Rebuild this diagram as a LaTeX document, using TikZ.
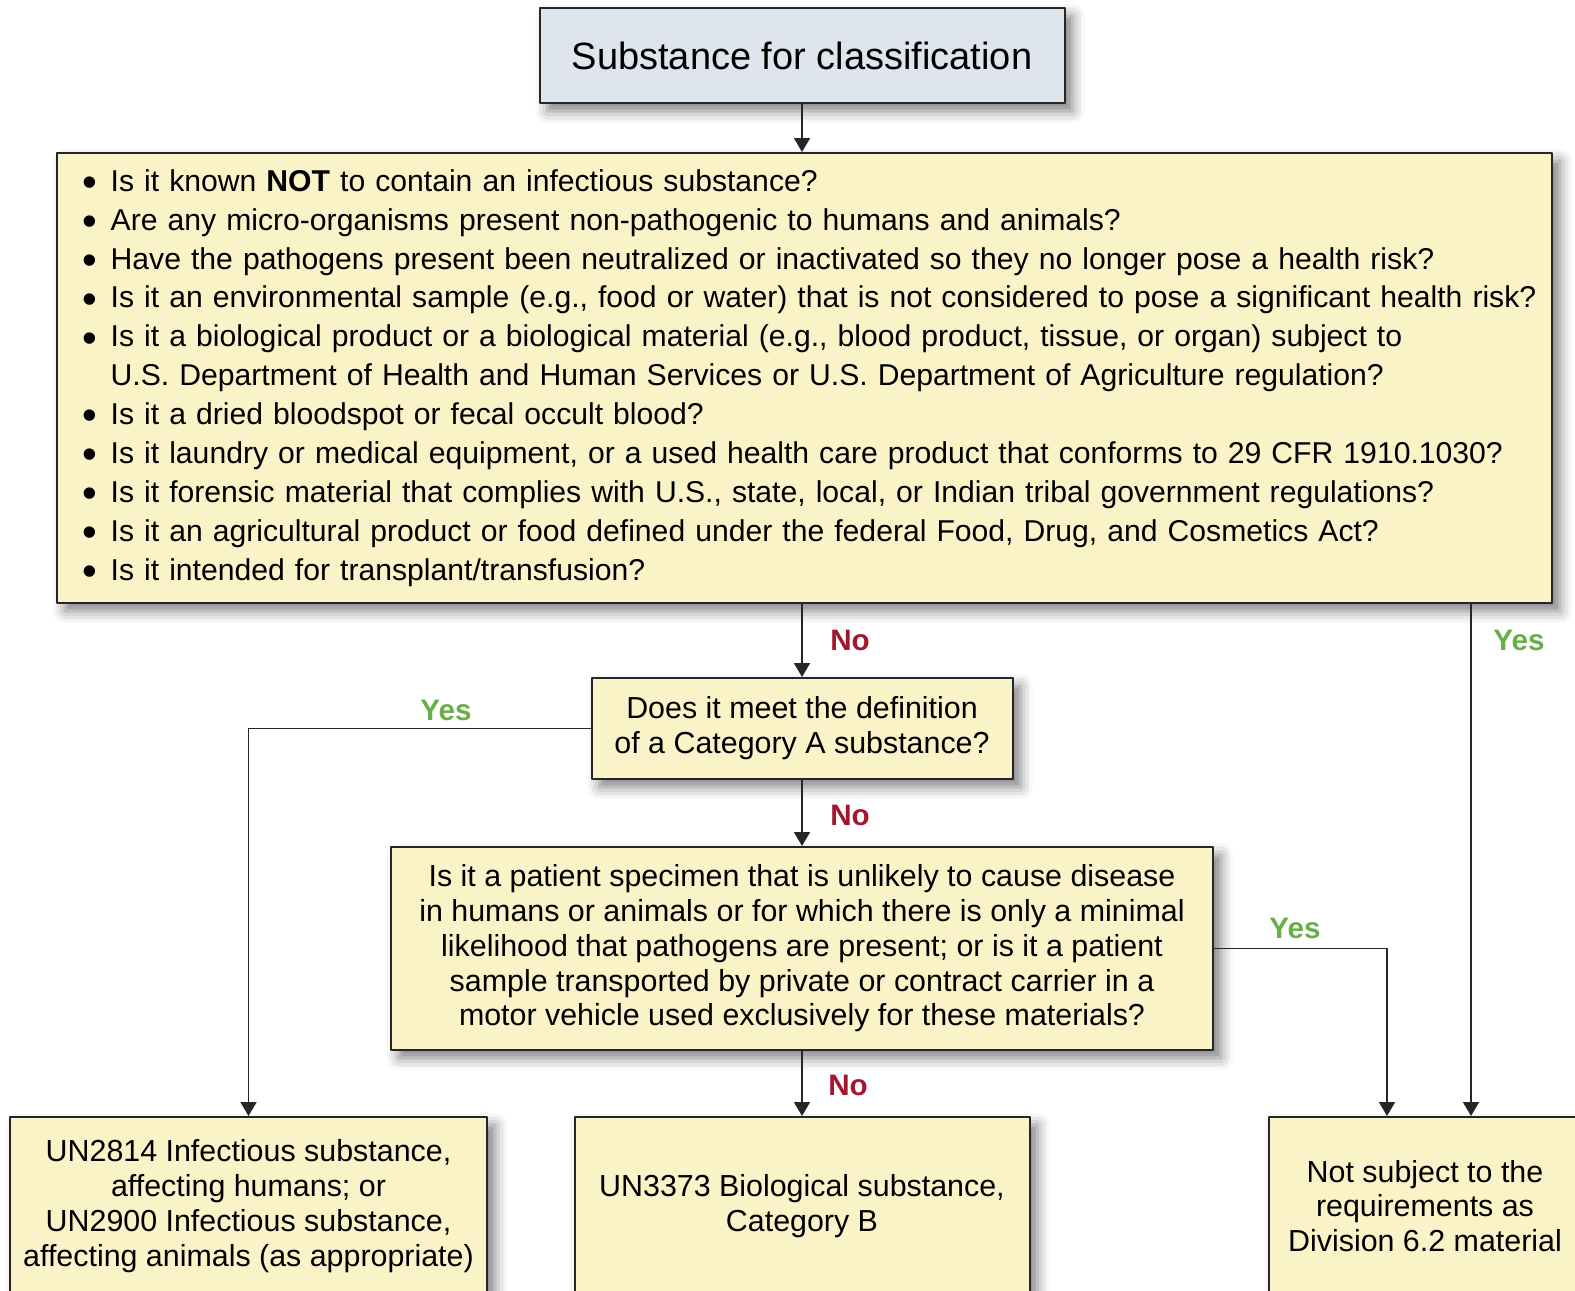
\documentclass[tikz,border=0pt]{standalone}
\usepackage{fontspec}
\setmainfont{Liberation Sans}
\usetikzlibrary{arrows.meta,shadows.blur}
\definecolor{boxyellow}{RGB}{250,243,200}
\definecolor{boxblue}{RGB}{222,229,237}
\definecolor{nored}{RGB}{163,22,46}
\definecolor{yesgreen}{RGB}{106,174,74}
\newcommand{\qbul}{\raisebox{-2.6pt}{\fontsize{21}{0}\selectfont\textbullet}}
\begin{document}
\begin{tikzpicture}[x=0.5pt, y=-0.5pt, line join=round, >={Triangle[width=8pt,length=7pt]},
	box/.style={draw=black!85, line width=1pt, fill=boxyellow, align=center, inner sep=0pt,
		blur shadow={shadow xshift=4pt, shadow yshift=-4pt, shadow blur radius=6pt, shadow opacity=50},
		font=\fontsize{15.2}{17.4}\selectfont},
	yes/.style={text=yesgreen, font=\bfseries\fontsize{14.8}{16}\selectfont},
	no/.style={text=nored, font=\bfseries\fontsize{14.8}{16}\selectfont},
	flow/.style={->, line width=0.9pt, black!85}]
	\def\xc{802}
	\def\yb{1206}
	\clip (0,0) rectangle (1575,1291);
	\node[box, fill=boxblue, minimum width=262.5pt, minimum height=47.5pt, font=\fontsize{19}{22}\selectfont] (src) at (\xc,55.5) {Substance for classification};
	\node[box, minimum width=747.5pt, minimum height=225pt, align=left, inner xsep=13pt, text width=721.5pt, font=\fontsize{15.07}{19.45}\selectfont] (quest) at (804.5,378) {%
		\begin{tabular}{@{}l@{\hspace{6.5pt}}l@{}}
			\qbul & Is it known \textbf{NOT} to contain an infectious substance?\\
			\qbul & Are any micro-organisms present non-pathogenic to humans and animals?\\
			\qbul & Have the pathogens present been neutralized or inactivated so they no longer pose a health risk?\\
			\qbul & Is it an environmental sample (e.g., food or water) that is not considered to pose a significant health risk?\\
			\qbul & Is it a biological product or a biological material (e.g., blood product, tissue, or organ) subject to\\
			& U.S. Department of Health and Human Services or U.S. Department of Agriculture regulation?\\
			\qbul & Is it a dried bloodspot or fecal occult blood?\\
			\qbul & Is it laundry or medical equipment, or a used health care product that conforms to 29 CFR 1910.1030?\\
			\qbul & Is it forensic material that complies with U.S., state, local, or Indian tribal government regulations?\\
			\qbul & Is it an agricultural product or food defined under the federal Food, Drug, and Cosmetics Act?\\
			\qbul & Is it intended for transplant/transfusion?
		\end{tabular}};
	\node[box, minimum width=210.5pt, minimum height=50.5pt] (catA) at (\xc,728.5) {Does it meet the definition\\of a Category A substance?};
	\node[box, minimum width=411pt, minimum height=101.5pt] (patient) at (\xc,948.5) {Is it a patient specimen that is unlikely to cause disease\\in humans or animals or for which there is only a minimal\\likelihood that pathogens are present; or is it a patient\\sample transported by private or contract carrier in a\\motor vehicle used exclusively for these materials?};
	\node[box, minimum width=238.5pt, minimum height=89pt] (un2814) at (248.5,\yb) {UN2814 Infectious substance,\\affecting humans; or\\UN2900 Infectious substance,\\affecting animals (as appropriate)};
	\node[box, minimum width=227.5pt, minimum height=89pt] (un3373) at (\xc,\yb) {UN3373 Biological substance,\\Category B};
	\node[box, minimum width=156pt, minimum height=89pt] (nots) at (1425,\yb) {Not subject to the\\requirements as\\Division 6.2 material};
	\draw[flow] (src.south) -- (src.south |- quest.north);
	\draw[flow] (catA |- quest.south) -- (catA.north);
	\draw[flow] (catA.south) -- (patient.north);
	\draw[flow] (patient.south) -- (un3373.north);
	\draw[flow] (catA.west) -| (un2814.north);
	\draw[flow] (patient.east) -| ([xshift=-19pt]nots.north);
	\draw[flow] ([xshift=-41pt]quest.south east) -- ([xshift=-41pt]quest.south east |- nots.north);
	\node[no] (no1) at (850,640) {No};
	\node[no] (no2) at (850,815) {No};
	\node[no] (no3) at (848,1085) {No};
	\node[yes] (yes1) at (446,710) {Yes};
	\node[yes] (yes2) at (1295,928) {Yes};
	\node[yes] (yes3) at (1519,640) {Yes};
\end{tikzpicture}
\end{document}
